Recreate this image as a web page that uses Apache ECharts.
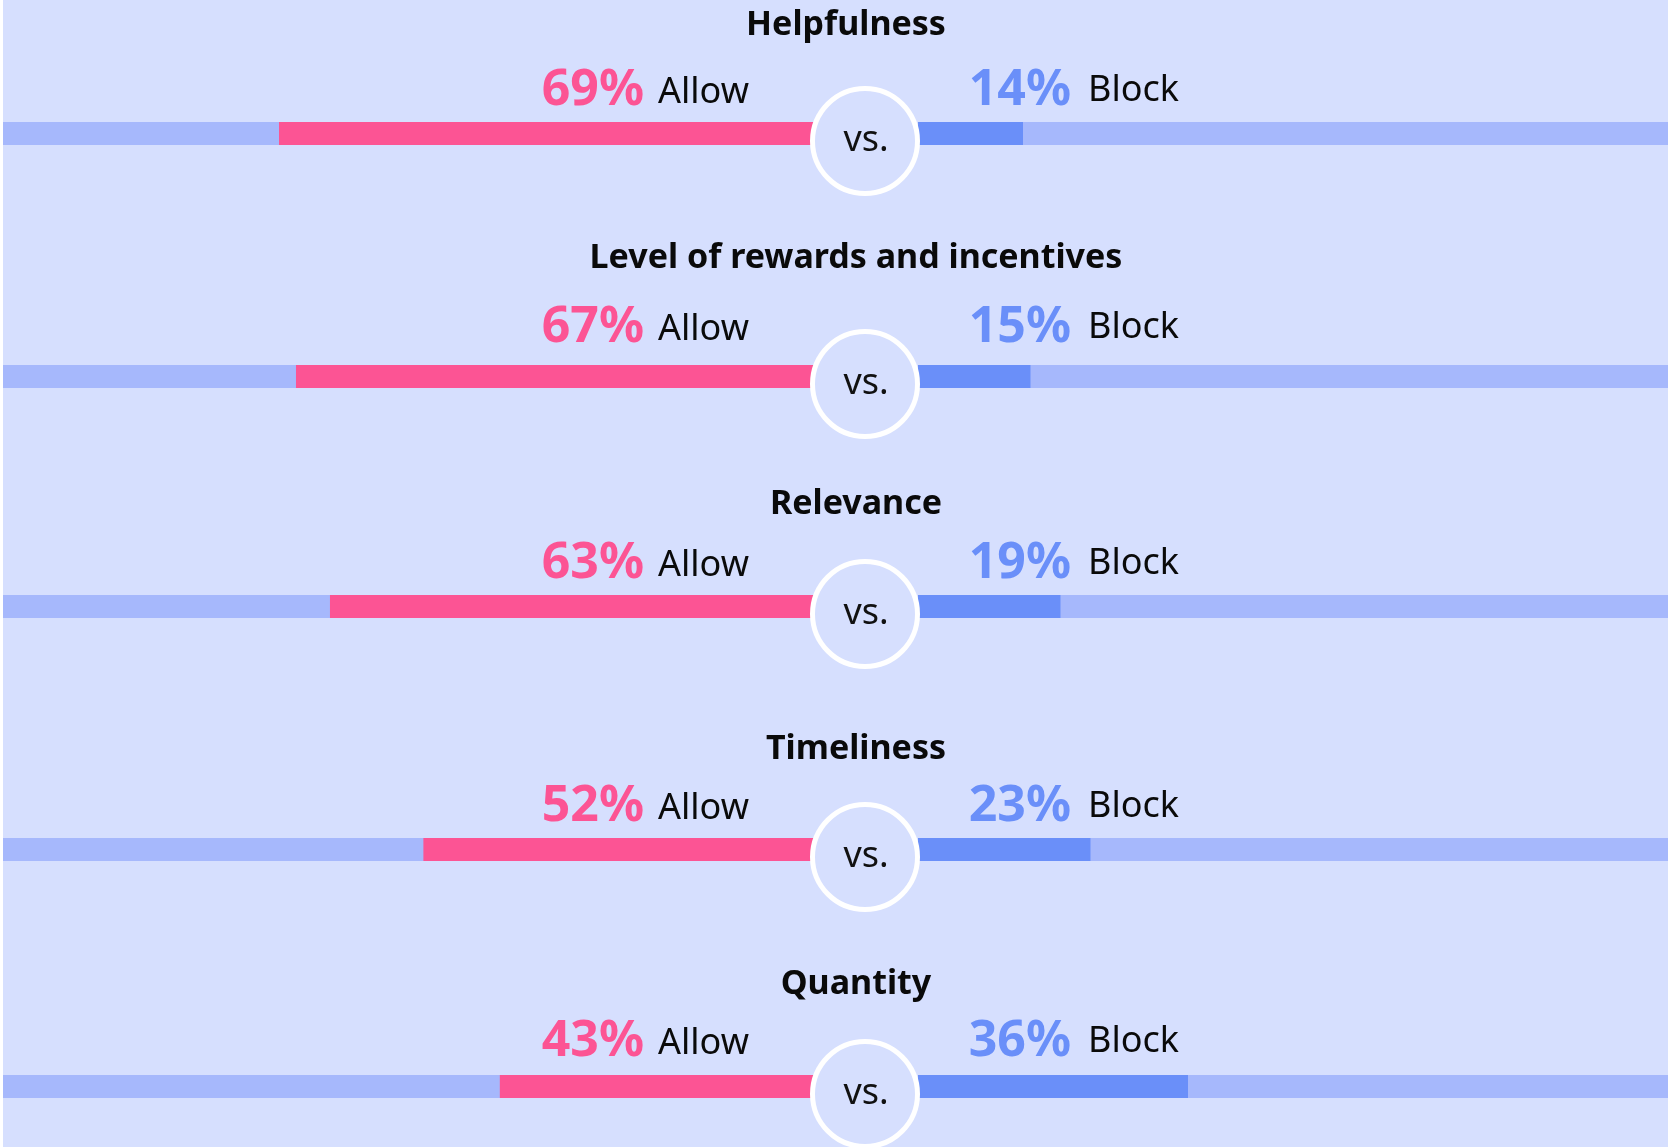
<!DOCTYPE html>
<html>
<head>
<meta charset="utf-8">
<script src="https://cdn.jsdelivr.net/npm/echarts@6/dist/echarts.min.js"></script>
<style>
  html, body { margin: 0; padding: 0; background: #ffffff; }
  #chart { position: absolute; left: 3px; top: 0; width: 1665px; height: 1147px; }
</style>
</head>
<body>
<div id="chart"></div>
<script>
// data
const categories = ['Helpfulness', 'Level of rewards and incentives', 'Relevance', 'Timeliness', 'Quantity'];
const allowValues = [69, 67, 63, 52, 43];
const blockValues = [14, 15, 19, 23, 36];
const allowLabel = 'Allow';
const blockLabel = 'Block';
const vsLabel = 'vs.';

// layout (px, relative to the chart box)
const BG = '#D6DFFE';
const TRACK = '#A6B8FC';
const PINK = '#FC5494';
const BLUE = '#6A8FF9';
const FONT = '"Noto Sans", sans-serif';
const centerX = 862;
const barTops = [122, 365, 595, 838, 1075];
const titleX = [843, 853, 853, 853, 853];
const titleMid = [25, 258, 504, 749, 984];
const labelBase = [105, 342, 578, 821, 1056];
const barH = 23;
const leftMax = 101.5;
const rightLeft = 915;

const chart = echarts.init(document.getElementById('chart'));

const grids = [], xAxes = [], yAxes = [], series = [], graphics = [];

categories.forEach((name, i) => {
    // left (allow) grid and right (block) grid
    grids.push({ left: 0, width: centerX, top: barTops[i], height: barH });
    grids.push({ left: rightLeft, right: 0, top: barTops[i], height: barH });
    xAxes.push({ gridIndex: 2 * i, type: 'value', min: 0, max: leftMax, inverse: true, show: false });
    xAxes.push({ gridIndex: 2 * i + 1, type: 'value', min: 0, max: 100, show: false });
    yAxes.push({ gridIndex: 2 * i, type: 'category', data: [name], show: false });
    yAxes.push({ gridIndex: 2 * i + 1, type: 'category', data: [name], show: false });

    series.push({
        type: 'bar', xAxisIndex: 2 * i, yAxisIndex: 2 * i, barWidth: barH, silent: true,
        data: [leftMax], itemStyle: { color: TRACK }, z: 1
    });
    series.push({
        type: 'bar', xAxisIndex: 2 * i, yAxisIndex: 2 * i, barWidth: barH, barGap: '-100%', silent: true,
        data: [allowValues[i]], itemStyle: { color: PINK }, z: 2
    });
    series.push({
        type: 'bar', xAxisIndex: 2 * i + 1, yAxisIndex: 2 * i + 1, barWidth: barH, silent: true,
        data: [100], itemStyle: { color: TRACK }, z: 1
    });
    series.push({
        type: 'bar', xAxisIndex: 2 * i + 1, yAxisIndex: 2 * i + 1, barWidth: barH, barGap: '-100%', silent: true,
        data: [blockValues[i]], itemStyle: { color: BLUE }, z: 2
    });

    const cy = barTops[i] + barH / 2 + 7.5;
    graphics.push({
        type: 'circle', z: 100, shape: { cx: centerX, cy: cy, r: 52.5 },
        style: { fill: BG, stroke: '#ffffff', lineWidth: 5 }
    });
    graphics.push({
        type: 'text', z: 101, x: centerX + 1, y: cy,
        style: { text: vsLabel, fill: '#111', font: '36px ' + FONT, align: 'center', verticalAlign: 'middle' }
    });
    graphics.push({
        type: 'text', z: 101, x: titleX[i], y: titleMid[i],
        style: { text: name, fill: '#0a0a0a', font: 'bold 34px ' + FONT, align: 'center', verticalAlign: 'middle' }
    });
    graphics.push({
        type: 'text', z: 101, x: 641, y: labelBase[i] - 14,
        style: { text: allowValues[i] + '%', fill: PINK, font: 'bold 50px ' + FONT, align: 'right', verticalAlign: 'middle' }
    });
    graphics.push({
        type: 'text', z: 101, x: 655, y: labelBase[i] - 12,
        style: { text: allowLabel, fill: '#0a0a0a', font: '36px ' + FONT, align: 'left', verticalAlign: 'middle' }
    });
    graphics.push({
        type: 'text', z: 101, x: 1068, y: labelBase[i] - 14,
        style: { text: blockValues[i] + '%', fill: BLUE, font: 'bold 50px ' + FONT, align: 'right', verticalAlign: 'middle' }
    });
    graphics.push({
        type: 'text', z: 101, x: 1085, y: labelBase[i] - 14,
        style: { text: blockLabel, fill: '#0a0a0a', font: '36px ' + FONT, align: 'left', verticalAlign: 'middle' }
    });
});

chart.setOption({
    backgroundColor: BG,
    animation: false,
    grid: grids,
    xAxis: xAxes,
    yAxis: yAxes,
    series: series,
    graphic: graphics
});
</script>
</body>
</html>
